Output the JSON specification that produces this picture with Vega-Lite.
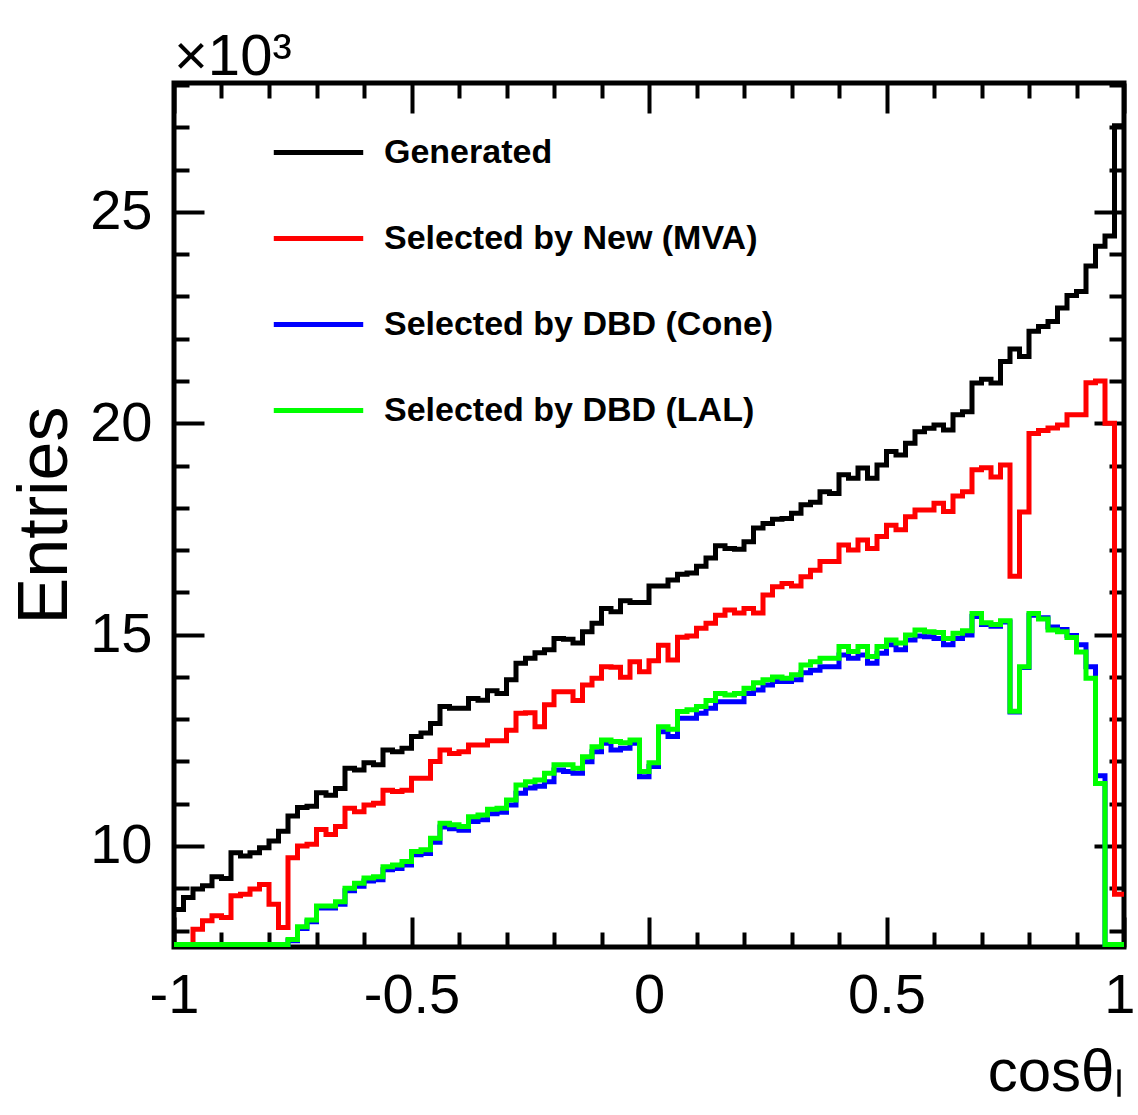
{
  "$schema": "https://vega.github.io/schema/vega-lite/v6.json",
  "width": 950,
  "height": 864,
  "autosize": {"type": "none"},
  "padding": {"left": 174, "top": 83, "right": 14, "bottom": 168},
  "background": "white",
  "title": {"text": "×10³", "anchor": "start", "frame": "group", "font": "Liberation Sans, sans-serif", "fontSize": 58, "fontWeight": "normal", "color": "black", "offset": -6},
  "config": {
    "view": {"stroke": "black", "strokeWidth": 5},
    "axis": {"domain": false, "grid": false, "tickColor": "black", "tickWidth": 4, "labelColor": "black", "titleColor": "black", "zindex": 1},
    "legend": {"orient": "none", "legendX": 97, "legendY": 22, "symbolType": "stroke", "symbolSize": 8000, "symbolStrokeWidth": 5, "labelFont": "Liberation Sans, sans-serif", "labelFontWeight": "bold", "labelFontSize": 34, "labelColor": "black", "labelOffset": 18, "labelLimit": 0, "rowPadding": 21, "padding": 0, "title": null}
  },
  "data": {"values": [
    {"cos": -1.00, "gen": 8.50, "mva": 7.50, "cone": 7.67, "lal": 7.67},
    {"cos": -0.98, "gen": 8.78, "mva": 7.50, "cone": 7.67, "lal": 7.67},
    {"cos": -0.96, "gen": 8.98, "mva": 8.03, "cone": 7.67, "lal": 7.67},
    {"cos": -0.94, "gen": 9.06, "mva": 8.23, "cone": 7.67, "lal": 7.67},
    {"cos": -0.92, "gen": 9.27, "mva": 8.35, "cone": 7.67, "lal": 7.67},
    {"cos": -0.90, "gen": 9.23, "mva": 8.31, "cone": 7.67, "lal": 7.67},
    {"cos": -0.88, "gen": 9.84, "mva": 8.82, "cone": 7.67, "lal": 7.67},
    {"cos": -0.86, "gen": 9.76, "mva": 8.86, "cone": 7.67, "lal": 7.67},
    {"cos": -0.84, "gen": 9.84, "mva": 8.98, "cone": 7.67, "lal": 7.67},
    {"cos": -0.82, "gen": 9.96, "mva": 9.09, "cone": 7.67, "lal": 7.67},
    {"cos": -0.80, "gen": 10.12, "mva": 8.62, "cone": 7.67, "lal": 7.67},
    {"cos": -0.78, "gen": 10.35, "mva": 8.07, "cone": 7.67, "lal": 7.67},
    {"cos": -0.76, "gen": 10.71, "mva": 9.72, "cone": 7.76, "lal": 7.79},
    {"cos": -0.74, "gen": 10.91, "mva": 10.00, "cone": 8.05, "lal": 8.09},
    {"cos": -0.72, "gen": 10.94, "mva": 10.04, "cone": 8.21, "lal": 8.25},
    {"cos": -0.70, "gen": 11.26, "mva": 10.39, "cone": 8.53, "lal": 8.58},
    {"cos": -0.68, "gen": 11.20, "mva": 10.27, "cone": 8.53, "lal": 8.58},
    {"cos": -0.66, "gen": 11.36, "mva": 10.46, "cone": 8.62, "lal": 8.68},
    {"cos": -0.64, "gen": 11.84, "mva": 10.89, "cone": 8.94, "lal": 9.00},
    {"cos": -0.62, "gen": 11.80, "mva": 10.81, "cone": 9.05, "lal": 9.12},
    {"cos": -0.60, "gen": 11.97, "mva": 10.97, "cone": 9.17, "lal": 9.24},
    {"cos": -0.58, "gen": 11.92, "mva": 11.01, "cone": 9.20, "lal": 9.27},
    {"cos": -0.56, "gen": 12.27, "mva": 11.32, "cone": 9.44, "lal": 9.51},
    {"cos": -0.54, "gen": 12.23, "mva": 11.29, "cone": 9.47, "lal": 9.55},
    {"cos": -0.52, "gen": 12.31, "mva": 11.32, "cone": 9.55, "lal": 9.63},
    {"cos": -0.50, "gen": 12.59, "mva": 11.60, "cone": 9.79, "lal": 9.87},
    {"cos": -0.48, "gen": 12.67, "mva": 11.60, "cone": 9.82, "lal": 9.91},
    {"cos": -0.46, "gen": 12.90, "mva": 12.00, "cone": 10.09, "lal": 10.18},
    {"cos": -0.44, "gen": 13.30, "mva": 12.27, "cone": 10.45, "lal": 10.54},
    {"cos": -0.42, "gen": 13.26, "mva": 12.19, "cone": 10.41, "lal": 10.50},
    {"cos": -0.40, "gen": 13.26, "mva": 12.23, "cone": 10.37, "lal": 10.46},
    {"cos": -0.38, "gen": 13.49, "mva": 12.39, "cone": 10.58, "lal": 10.69},
    {"cos": -0.36, "gen": 13.45, "mva": 12.39, "cone": 10.62, "lal": 10.73},
    {"cos": -0.34, "gen": 13.67, "mva": 12.49, "cone": 10.76, "lal": 10.87},
    {"cos": -0.32, "gen": 13.61, "mva": 12.49, "cone": 10.80, "lal": 10.89},
    {"cos": -0.30, "gen": 13.93, "mva": 12.74, "cone": 10.97, "lal": 11.09},
    {"cos": -0.28, "gen": 14.32, "mva": 13.14, "cone": 11.25, "lal": 11.44},
    {"cos": -0.26, "gen": 14.44, "mva": 13.15, "cone": 11.37, "lal": 11.52},
    {"cos": -0.24, "gen": 14.57, "mva": 12.82, "cone": 11.41, "lal": 11.56},
    {"cos": -0.22, "gen": 14.64, "mva": 13.34, "cone": 11.52, "lal": 11.72},
    {"cos": -0.20, "gen": 14.91, "mva": 13.65, "cone": 11.80, "lal": 11.92},
    {"cos": -0.18, "gen": 14.89, "mva": 13.65, "cone": 11.76, "lal": 11.92},
    {"cos": -0.16, "gen": 14.80, "mva": 13.44, "cone": 11.72, "lal": 11.84},
    {"cos": -0.14, "gen": 15.07, "mva": 13.81, "cone": 11.99, "lal": 12.11},
    {"cos": -0.12, "gen": 15.27, "mva": 13.97, "cone": 12.23, "lal": 12.35},
    {"cos": -0.10, "gen": 15.62, "mva": 14.24, "cone": 12.43, "lal": 12.51},
    {"cos": -0.08, "gen": 15.54, "mva": 14.23, "cone": 12.27, "lal": 12.47},
    {"cos": -0.06, "gen": 15.80, "mva": 13.99, "cone": 12.31, "lal": 12.44},
    {"cos": -0.04, "gen": 15.76, "mva": 14.36, "cone": 12.43, "lal": 12.51},
    {"cos": -0.02, "gen": 15.76, "mva": 14.12, "cone": 11.64, "lal": 11.76},
    {"cos": 0.00, "gen": 16.15, "mva": 14.38, "cone": 11.88, "lal": 11.97},
    {"cos": 0.02, "gen": 16.15, "mva": 14.75, "cone": 12.70, "lal": 12.82},
    {"cos": 0.04, "gen": 16.29, "mva": 14.40, "cone": 12.59, "lal": 12.76},
    {"cos": 0.06, "gen": 16.43, "mva": 14.94, "cone": 13.02, "lal": 13.18},
    {"cos": 0.08, "gen": 16.46, "mva": 14.97, "cone": 13.02, "lal": 13.22},
    {"cos": 0.10, "gen": 16.62, "mva": 15.15, "cone": 13.14, "lal": 13.30},
    {"cos": 0.12, "gen": 16.81, "mva": 15.27, "cone": 13.26, "lal": 13.44},
    {"cos": 0.14, "gen": 17.10, "mva": 15.46, "cone": 13.41, "lal": 13.61},
    {"cos": 0.16, "gen": 17.04, "mva": 15.58, "cone": 13.41, "lal": 13.57},
    {"cos": 0.18, "gen": 17.02, "mva": 15.51, "cone": 13.41, "lal": 13.61},
    {"cos": 0.20, "gen": 17.20, "mva": 15.62, "cone": 13.61, "lal": 13.73},
    {"cos": 0.22, "gen": 17.52, "mva": 15.51, "cone": 13.69, "lal": 13.86},
    {"cos": 0.24, "gen": 17.63, "mva": 15.94, "cone": 13.81, "lal": 13.93},
    {"cos": 0.26, "gen": 17.73, "mva": 16.13, "cone": 13.89, "lal": 14.00},
    {"cos": 0.28, "gen": 17.75, "mva": 16.21, "cone": 13.89, "lal": 13.97},
    {"cos": 0.30, "gen": 17.87, "mva": 16.15, "cone": 13.93, "lal": 14.05},
    {"cos": 0.32, "gen": 18.07, "mva": 16.37, "cone": 14.10, "lal": 14.28},
    {"cos": 0.34, "gen": 18.13, "mva": 16.52, "cone": 14.16, "lal": 14.36},
    {"cos": 0.36, "gen": 18.38, "mva": 16.73, "cone": 14.24, "lal": 14.44},
    {"cos": 0.38, "gen": 18.34, "mva": 16.73, "cone": 14.24, "lal": 14.44},
    {"cos": 0.40, "gen": 18.78, "mva": 17.12, "cone": 14.52, "lal": 14.72},
    {"cos": 0.42, "gen": 18.70, "mva": 17.00, "cone": 14.44, "lal": 14.60},
    {"cos": 0.44, "gen": 18.94, "mva": 17.24, "cone": 14.52, "lal": 14.72},
    {"cos": 0.46, "gen": 18.70, "mva": 17.04, "cone": 14.32, "lal": 14.48},
    {"cos": 0.48, "gen": 19.01, "mva": 17.32, "cone": 14.56, "lal": 14.72},
    {"cos": 0.50, "gen": 19.33, "mva": 17.59, "cone": 14.76, "lal": 14.87},
    {"cos": 0.52, "gen": 19.25, "mva": 17.48, "cone": 14.64, "lal": 14.80},
    {"cos": 0.54, "gen": 19.53, "mva": 17.79, "cone": 14.87, "lal": 14.99},
    {"cos": 0.56, "gen": 19.80, "mva": 17.95, "cone": 14.97, "lal": 15.11},
    {"cos": 0.58, "gen": 19.88, "mva": 17.95, "cone": 14.95, "lal": 15.07},
    {"cos": 0.60, "gen": 19.96, "mva": 18.11, "cone": 14.91, "lal": 15.05},
    {"cos": 0.62, "gen": 19.84, "mva": 17.91, "cone": 14.76, "lal": 14.91},
    {"cos": 0.64, "gen": 20.20, "mva": 18.28, "cone": 14.91, "lal": 15.03},
    {"cos": 0.66, "gen": 20.27, "mva": 18.38, "cone": 14.99, "lal": 15.09},
    {"cos": 0.68, "gen": 20.95, "mva": 18.90, "cone": 15.43, "lal": 15.50},
    {"cos": 0.70, "gen": 21.04, "mva": 18.95, "cone": 15.24, "lal": 15.28},
    {"cos": 0.72, "gen": 20.95, "mva": 18.73, "cone": 15.20, "lal": 15.24},
    {"cos": 0.74, "gen": 21.46, "mva": 19.01, "cone": 15.30, "lal": 15.33},
    {"cos": 0.76, "gen": 21.76, "mva": 16.38, "cone": 13.17, "lal": 13.19},
    {"cos": 0.78, "gen": 21.58, "mva": 17.90, "cone": 14.22, "lal": 14.24},
    {"cos": 0.80, "gen": 22.18, "mva": 19.76, "cone": 15.46, "lal": 15.50},
    {"cos": 0.82, "gen": 22.29, "mva": 19.83, "cone": 15.40, "lal": 15.37},
    {"cos": 0.84, "gen": 22.41, "mva": 19.89, "cone": 15.18, "lal": 15.11},
    {"cos": 0.86, "gen": 22.73, "mva": 19.96, "cone": 15.12, "lal": 15.07},
    {"cos": 0.88, "gen": 23.02, "mva": 20.20, "cone": 14.98, "lal": 14.93},
    {"cos": 0.90, "gen": 23.12, "mva": 20.20, "cone": 14.76, "lal": 14.59},
    {"cos": 0.92, "gen": 23.72, "mva": 20.96, "cone": 14.24, "lal": 13.97},
    {"cos": 0.94, "gen": 24.19, "mva": 21.00, "cone": 11.66, "lal": 11.48},
    {"cos": 0.96, "gen": 24.43, "mva": 20.00, "cone": 7.67, "lal": 7.67},
    {"cos": 0.98, "gen": 27.04, "mva": 8.86, "cone": 7.67, "lal": 7.67},
    {"cos": 1.00, "gen": 27.04, "mva": 8.86, "cone": 7.67, "lal": 7.67}
  ]},
  "resolve": {"axis": {"x": "independent", "y": "independent"}},
  "layer": [
    {
      "mark": {"type": "line", "interpolate": "step-after", "clip": true, "strokeWidth": 5, "strokeJoin": "miter", "strokeCap": "butt"},
      "encoding": {
        "x": {"field": "cos", "type": "quantitative", "scale": {"domain": [-1, 1], "nice": false, "zero": false},
              "axis": {"orient": "bottom", "values": [-1, -0.5, 0, 0.5, 1], "tickSize": -30, "labelExpr": "toString(datum.value)", "labelFont": "Liberation Sans, sans-serif", "labelFontSize": 56, "labelPadding": 51, "labelFlush": false, "labelOverlap": false,
                       "labelAlign": {"condition": {"test": "datum.value === 1", "value": "right"}, "value": "center"},
                       "labelOffset": {"condition": {"test": "datum.value === 1", "value": 11}, "value": 0},
                       "title": "cosθₗ", "titleFont": "Liberation Sans, sans-serif", "titleFontSize": 60, "titleFontWeight": "normal", "titleAnchor": "end", "titlePadding": 20}},
        "y": {"field": "gen", "type": "quantitative", "scale": {"domain": [7.61, 28.05], "nice": false, "zero": false},
              "axis": {"orient": "left", "values": [10, 15, 20, 25], "tickSize": -30, "labelFont": "Liberation Sans, sans-serif", "labelFontSize": 56, "labelPadding": 52, "labelOverlap": false, "title": "Entries", "titleFont": "Liberation Sans, sans-serif", "titleFontSize": 70, "titleFontWeight": "normal", "titlePadding": 8}},
        "color": {"datum": "Generated", "type": "nominal", "scale": {"domain": ["Generated", "Selected by New (MVA)", "Selected by DBD (Cone)", "Selected by DBD (LAL)"], "range": ["#000000", "#ff0000", "#0000ff", "#00ff00"]}}
      }
    },
    {
      "mark": {"type": "line", "interpolate": "step-after", "clip": true, "strokeWidth": 5, "strokeJoin": "miter", "strokeCap": "butt"},
      "encoding": {
        "x": {"field": "cos", "type": "quantitative", "scale": {"domain": [-1, 1], "nice": false, "zero": false},
              "axis": {"orient": "bottom", "values": [-0.9, -0.8, -0.7, -0.6, -0.4, -0.3, -0.2, -0.1, 0.1, 0.2, 0.3, 0.4, 0.6, 0.7, 0.8, 0.9], "tickSize": -15, "labels": false, "title": null}},
        "y": {"field": "mva", "type": "quantitative", "scale": {"domain": [7.61, 28.05], "nice": false, "zero": false},
              "axis": {"orient": "left", "values": [8, 9, 11, 12, 13, 14, 16, 17, 18, 19, 21, 22, 23, 24, 26, 27, 28], "tickSize": -15, "labels": false, "title": null}},
        "color": {"datum": "Selected by New (MVA)", "type": "nominal"}
      }
    },
    {
      "mark": {"type": "line", "interpolate": "step-after", "clip": true, "strokeWidth": 5, "strokeJoin": "miter", "strokeCap": "butt"},
      "encoding": {
        "x": {"field": "cos", "type": "quantitative", "scale": {"domain": [-1, 1], "nice": false, "zero": false},
              "axis": {"orient": "top", "values": [-1, -0.5, 0, 0.5, 1], "tickSize": -30, "labels": false, "title": null}},
        "y": {"field": "cone", "type": "quantitative", "scale": {"domain": [7.61, 28.05], "nice": false, "zero": false},
              "axis": {"orient": "right", "values": [10, 15, 20, 25], "tickSize": -30, "labels": false, "title": null}},
        "color": {"datum": "Selected by DBD (Cone)", "type": "nominal"}
      }
    },
    {
      "mark": {"type": "line", "interpolate": "step-after", "clip": true, "strokeWidth": 5, "strokeJoin": "miter", "strokeCap": "butt"},
      "encoding": {
        "x": {"field": "cos", "type": "quantitative", "scale": {"domain": [-1, 1], "nice": false, "zero": false},
              "axis": {"orient": "top", "values": [-0.9, -0.8, -0.7, -0.6, -0.4, -0.3, -0.2, -0.1, 0.1, 0.2, 0.3, 0.4, 0.6, 0.7, 0.8, 0.9], "tickSize": -15, "labels": false, "title": null}},
        "y": {"field": "lal", "type": "quantitative", "scale": {"domain": [7.61, 28.05], "nice": false, "zero": false},
              "axis": {"orient": "right", "values": [8, 9, 11, 12, 13, 14, 16, 17, 18, 19, 21, 22, 23, 24, 26, 27, 28], "tickSize": -15, "labels": false, "title": null}},
        "color": {"datum": "Selected by DBD (LAL)", "type": "nominal"}
      }
    }
  ]
}
